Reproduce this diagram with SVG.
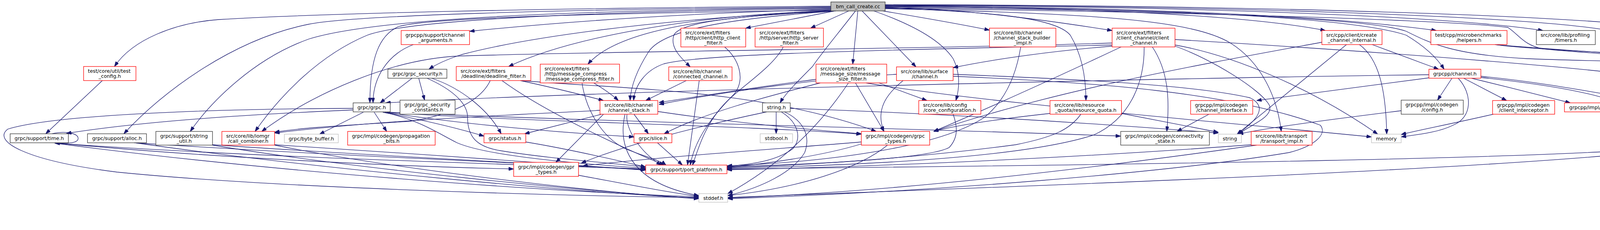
<svg xmlns="http://www.w3.org/2000/svg" width="4693" height="588" viewBox="0 0 4693 588">
<style>
rect{fill:#fff;stroke-width:1.3}
.k rect{stroke:#333}
.r rect{stroke:#f00}
.g rect{stroke:#bfbfbf}
.t rect{fill:#bfbfbf;stroke:#333}
text{font-family:"DejaVu Sans",sans-serif;font-size:12.7px;fill:#000}
.c{text-anchor:middle}
#edges path{fill:none;stroke:#191970;stroke-width:1.3;marker-end:url(#ah)}
</style>
<defs>
<marker id="ah" markerUnits="userSpaceOnUse" viewBox="0 0 12.7 8.9" refX="12.7" refY="4.45" markerWidth="12.7" markerHeight="8.9" orient="auto">
<path d="M0,0 L12.7,4.45 L0,8.9 z" fill="#191970" stroke="#191970"/>
</marker>
</defs>
<rect x="0" y="0" width="4693" height="588" style="fill:#fff;stroke:none"/>
<g id="edges">
<path d="M2127,16 C1400,20 800,35 560,50 C450,58 340,100 293,170"/>
<path d="M2127,18 C1400,24 900,40 790,62 C600,100 420,230 317,342"/>
<path d="M2127,20 C1400,27 950,50 790,100 C650,150 540,260 487,336"/>
<path d="M2127,22 C1500,30 1050,50 940,90 C820,140 720,240 653,336"/>
<path d="M2847,110 C2400,125 1600,130 1180,143 C1000,150 800,240 670,336"/>
<path d="M2127,24 C1700,35 1400,60 1202,80"/>
<path d="M2127,26 C1500,35 1100,45 1020,68 C970,90 947,150 947,263"/>
<path d="M1058,114 C990,140 955,200 955,263"/>
<path d="M2130,28 C1650,50 1330,100 1180,140 C1150,150 1120,162 1098,177"/>
<path d="M2130,27 C1750,40 1450,100 1302,170"/>
<path d="M2135,28 C1750,45 1570,90 1505,164"/>
<path d="M2137,28 C1900,40 1740,55 1725,90 C1715,120 1740,145 1767,171"/>
<path d="M2140,28 C1900,45 1700,70 1660,133 C1630,180 1615,220 1613,257"/>
<path d="M2137,28 C2050,45 1980,58 1909,72"/>
<path d="M2173,28 L2075,72"/>
<path d="M2190,28 C2150,80 2100,140 2080,170 C2040,210 2010,240 1997,263"/>
<path d="M2196,28 L2183,164"/>
<path d="M2207,28 L2345,171"/>
<path d="M2237,28 C2300,50 2400,90 2440,150 C2460,190 2455,230 2447,257"/>
<path d="M2260,28 C2350,43 2450,60 2533,77"/>
<path d="M2266,18 C2500,25 2700,55 2847,78"/>
<path d="M2266,20 C2500,30 2700,40 2740,90 C2770,140 2780,200 2780,257"/>
<path d="M2266,22 C2800,35 3050,50 3150,110 C3230,160 3270,250 3280,336"/>
<path d="M2266,16 C2800,20 3200,40 3393,78"/>
<path d="M2266,15 C2900,18 3400,40 3677,78"/>
<path d="M2266,17 C2900,20 3450,40 3600,90 C3650,120 3680,150 3697,177"/>
<path d="M2266,14 C3000,15 3700,40 3950,78"/>
<path d="M2266,13 C3100,14 3900,40 4120,78"/>
<path d="M2266,12 C3200,13 4100,40 4310,78"/>
<path d="M2266,19 C3000,25 3500,45 3600,80 C3660,110 3720,140 3910,150 C4100,158 4300,155 4365,177"/>
<path d="M2266,21 C3000,30 3700,50 3860,70 C3890,90 3900,115 3950,125 C4150,145 4400,150 4548,177"/>
<path d="M262,206 L117,342"/>
<path d="M904,281 C700,290 400,305 170,341"/>
<path d="M133,342 C165,334 200,340 200,354 C200,366 175,367 140,366"/>
<path d="M904,277 C600,278 150,290 20,330 C-20,360 60,410 300,440 C700,480 1400,500 1789,505"/>
<path d="M930,287 L818,343"/>
<path d="M958,287 L990,336"/>
<path d="M980,287 C1100,310 1180,330 1239,348"/>
<path d="M985,287 C1200,320 1450,340 1623,350"/>
<path d="M990,287 C1300,310 1900,320 2205,343"/>
<path d="M995,287 C1500,310 2400,330 2869,348"/>
<path d="M985,287 C1080,310 1120,340 1170,365 C1250,400 1500,420 1653,430"/>
<path d="M1055,200 L973,263"/>
<path d="M1072,200 L1087,256"/>
<path d="M1105,200 C1180,225 1250,280 1283,342"/>
<path d="M1093,200 C1150,225 1197,260 1197,300 C1197,350 1220,375 1280,385 C1400,405 1550,415 1653,427"/>
<path d="M1255,206 C1230,260 1150,295 1050,310 C900,320 780,325 703,338"/>
<path d="M1536,282 C1300,295 1000,305 703,340"/>
<path d="M1332,206 C1420,225 1500,245 1545,257"/>
<path d="M1285,206 C1400,290 1600,380 1700,422"/>
<path d="M1332,206 C1600,228 1950,228 2243,336"/>
<path d="M1520,212 C1550,230 1570,245 1583,257"/>
<path d="M1490,212 C1500,280 1540,350 1600,380 C1650,400 1690,410 1705,422"/>
<path d="M1757,206 L1653,257"/>
<path d="M1790,206 L1760,422"/>
<path d="M1855,120 C1890,150 1910,200 1880,240 C1830,290 1780,350 1767,422"/>
<path d="M2005,120 C1980,170 1900,220 1860,260 C1810,310 1790,370 1773,422"/>
<path d="M2847,115 C2400,125 1800,135 1700,163 C1650,180 1625,220 1622,257"/>
<path d="M2847,118 C2700,130 2550,150 2440,173"/>
<path d="M2870,120 C2700,200 2500,290 2390,336"/>
<path d="M2929,120 C2930,200 2900,300 2800,345 C2600,410 2100,425 1861,430"/>
<path d="M2950,120 C2990,180 2995,250 2987,336"/>
<path d="M3008,115 C3150,140 3350,220 3527,343"/>
<path d="M3008,118 C3100,150 3230,230 3250,270 C3260,300 3200,320 3170,343"/>
<path d="M3008,101 C3500,130 4200,180 4330,215 C4420,250 4400,340 4290,375 C4000,405 3000,420 1861,432"/>
<path d="M3827,114 C3950,130 4200,135 4430,157 C4480,200 4480,280 4400,310 C4330,350 4300,375 4200,390 C3700,440 2500,480 1863,505"/>
<path d="M3827,114 C4000,130 4400,150 4548,177"/>
<path d="M3510,113 L3683,177"/>
<path d="M3447,114 L3167,343"/>
<path d="M3480,114 C3530,150 3548,230 3550,343"/>
<path d="M3384,108 C3100,160 2700,230 2390,336"/>
<path d="M3658,191 C3000,200 1600,230 987,263"/>
<path d="M3658,199 C3500,220 3300,245 3217,257"/>
<path d="M3717,200 L3680,256"/>
<path d="M3733,200 C3770,240 3770,300 3720,320 C3680,340 3620,345 3587,350"/>
<path d="M3747,200 L3857,257"/>
<path d="M3767,200 C3850,220 3950,245 4020,263"/>
<path d="M3791,195 C3950,210 4100,240 4207,257"/>
<path d="M3791,198 C4000,220 4150,250 4190,290 C4200,310 4205,325 4207,336"/>
<path d="M3823,292 C3700,320 3620,335 3587,344"/>
<path d="M3587,283 C3450,300 3250,325 3170,343"/>
<path d="M3095,292 L3013,336"/>
<path d="M4280,292 L4233,336"/>
<path d="M2871,290 C2950,305 3050,325 3119,338"/>
<path d="M2767,292 C2740,330 2700,350 2600,370 C2300,410 2000,425 1861,428"/>
<path d="M2688,290 C2550,305 2450,320 2390,336"/>
<path d="M2440,292 C2450,320 2455,350 2430,377 C2380,405 2100,420 1861,426"/>
<path d="M2613,120 C2600,200 2570,260 2520,300 C2400,380 2100,415 1861,424"/>
<path d="M2312,206 C2270,240 2240,280 2263,336"/>
<path d="M2440,190 C2700,200 3050,215 3200,250 C3240,270 3230,300 3167,343"/>
<path d="M2440,195 C2800,210 3150,235 3380,320 C3400,345 3360,375 3300,390 C3000,440 2400,490 1863,508"/>
<path d="M2295,190 C2100,200 1850,235 1687,267"/>
<path d="M2089,203 C1950,220 1800,245 1687,262"/>
<path d="M2190,212 L2263,336"/>
<path d="M2172,212 C2100,320 2000,420 1863,495"/>
<path d="M2250,212 C2300,230 2340,245 2373,257"/>
<path d="M2100,212 C1950,250 1800,290 1700,342"/>
<path d="M2217,212 C2500,260 3000,300 3511,350"/>
<path d="M1987,286 L1987,342"/>
<path d="M2000,286 C2040,310 2055,350 2030,380 C1990,410 1930,420 1861,425"/>
<path d="M2008,286 C2060,310 2075,350 2060,390 C2030,440 1950,480 1863,500"/>
<path d="M1963,286 C1800,320 1600,370 1488,417"/>
<path d="M2023,277 C2400,290 2800,315 3119,340"/>
<path d="M1623,292 L1660,342"/>
<path d="M1540,292 L1343,342"/>
<path d="M1545,292 L1423,415"/>
<path d="M1605,292 C1600,330 1640,390 1693,422"/>
<path d="M1600,292 C1580,380 1620,470 1789,500"/>
<path d="M1684,285 C1850,310 2050,330 2205,342"/>
<path d="M1683,365 L1747,422"/>
<path d="M1346,363 C1450,380 1560,405 1653,427"/>
<path d="M2205,363 C2000,380 1700,400 1492,424"/>
<path d="M2272,371 C2200,430 2050,480 1863,500"/>
<path d="M2205,368 C2100,400 1950,420 1861,428"/>
<path d="M1481,448 C1600,470 1700,490 1789,502"/>
<path d="M143,366 C600,400 1300,420 1653,432"/>
<path d="M150,366 C500,400 1000,425 1315,432"/>
<path d="M140,366 C700,440 1400,490 1789,503"/>
<path d="M343,365 C800,395 1300,415 1653,433"/>
<path d="M345,365 C800,430 1500,495 1789,506"/>
<path d="M544,370 C900,395 1400,420 1653,434"/>
<path d="M544,371 C900,430 1500,490 1789,507"/>
<path d="M703,370 C1000,390 1400,415 1653,435"/>
<path d="M703,371 C1000,430 1500,490 1789,508"/>
<path d="M3203,370 C2800,400 2300,425 1861,434"/>
<path d="M3217,371 C2800,430 2300,490 1863,506"/>
</g>
<g id="bm" class="t"><rect x="2127" y="5" width="139" height="23"/><text class="c" x="2196.5" y="21">bm_call_create.cc</text></g>
<g id="tcfg" class="r"><rect x="214" y="170" width="134" height="36"/><text x="225" y="186">test/core/util/test</text><text class="c" x="281" y="199">_config.h</text></g>
<g id="chargs" class="r"><rect x="1027" y="78" width="175" height="36"/><text x="1038" y="94">grpcpp/support/channel</text><text class="c" x="1114.5" y="107">_arguments.h</text></g>
<g id="httpc" class="r"><rect x="1743" y="72" width="166" height="48"/><text x="1754" y="87.5">src/core/ext/filters</text><text x="1754" y="100.5">/http/client/http_client</text><text class="c" x="1826" y="113.5">_filter.h</text></g>
<g id="https" class="r"><rect x="1933" y="72" width="175" height="48"/><text x="1944" y="87.5">src/core/ext/filters</text><text x="1944" y="100.5">/http/server/http_server</text><text class="c" x="2020.5" y="113.5">_filter.h</text></g>
<g id="csbi" class="r"><rect x="2533" y="72" width="170" height="48"/><text x="2544" y="87.5">src/core/lib/channel</text><text x="2544" y="100.5">/channel_stack_builder</text><text class="c" x="2618" y="113.5">_impl.h</text></g>
<g id="cc" class="r"><rect x="2847" y="72" width="161" height="48"/><text x="2858" y="87.5">src/core/ext/filters</text><text x="2858" y="100.5">/client_channel/client</text><text class="c" x="2927.5" y="113.5">_channel.h</text></g>
<g id="cci" class="r"><rect x="3384" y="78" width="154" height="36"/><text x="3395" y="94">src/cpp/client/create</text><text class="c" x="3461" y="107">_channel_internal.h</text></g>
<g id="helpers" class="r"><rect x="3663" y="78" width="195" height="36"/><text x="3674" y="94">test/cpp/microbenchmarks</text><text class="c" x="3760.5" y="107">/helpers.h</text></g>
<g id="timers" class="k"><rect x="3933" y="78" width="151" height="36"/><text x="3944" y="94">src/core/lib/profiling</text><text class="c" x="4008.5" y="107">/timers.h</text></g>
<g id="echo" class="g"><rect x="4109" y="78" width="160" height="36"/><text x="4120" y="94">src/proto/grpc/testing</text><text class="c" x="4189" y="107">/echo.grpc.pb.h</text></g>
<g id="tcpp" class="k"><rect x="4293" y="78" width="128" height="36"/><text x="4304" y="94">test/cpp/util/test</text><text class="c" x="4357" y="107">_config.h</text></g>
<g id="sec" class="k"><rect x="993" y="177" width="151" height="23"/><text class="c" x="1068.5" y="193">grpc/grpc_security.h</text></g>
<g id="deadline" class="r"><rect x="1168" y="170" width="191" height="36"/><text x="1179" y="186">src/core/ext/filters</text><text class="c" x="1263.5" y="199">/deadline/deadline_filter.h</text></g>
<g id="mcomp" class="r"><rect x="1383" y="164" width="203" height="48"/><text x="1394" y="179.5">src/core/ext/filters</text><text x="1394" y="192.5">/http/message_compress</text><text class="c" x="1484.5" y="205.5">/message_compress_filter.h</text></g>
<g id="conn" class="r"><rect x="1712" y="171" width="162" height="35"/><text x="1723" y="186.5">src/core/lib/channel</text><text class="c" x="1793" y="199.5">/connected_channel.h</text></g>
<g id="msize" class="r"><rect x="2089" y="164" width="181" height="48"/><text x="2100" y="179.5">src/core/ext/filters</text><text x="2100" y="192.5">/message_size/message</text><text class="c" x="2179.5" y="205.5">_size_filter.h</text></g>
<g id="surf" class="r"><rect x="2295" y="171" width="145" height="35"/><text x="2306" y="186.5">src/core/lib/surface</text><text class="c" x="2367.5" y="199.5">/channel.h</text></g>
<g id="gchan" class="r"><rect x="3658" y="177" width="133" height="23"/><text class="c" x="3724.5" y="193">grpcpp/channel.h</text></g>
<g id="sstream" class="g"><rect x="4354" y="177" width="75" height="23"/><text class="c" x="4391.5" y="193">sstream</text></g>
<g id="bench" class="g"><rect x="4503" y="177" width="185" height="23"/><text class="c" x="4595.5" y="193">benchmark/benchmark.h</text></g>
<g id="grpc" class="k"><rect x="904" y="263" width="95" height="23"/><text class="c" x="951.5" y="279">grpc/grpc.h</text></g>
<g id="secc" class="k"><rect x="1024" y="256" width="141" height="36"/><text x="1035" y="272">grpc/grpc_security</text><text class="c" x="1094.5" y="285">_constants.h</text></g>
<g id="cstack" class="r"><rect x="1536" y="257" width="148" height="35"/><text x="1547" y="272.5">src/core/lib/channel</text><text class="c" x="1610" y="285.5">/channel_stack.h</text></g>
<g id="stringh" class="k"><rect x="1952" y="263" width="71" height="23"/><text class="c" x="1987.5" y="279">string.h</text></g>
<g id="ccfg" class="r"><rect x="2352" y="257" width="159" height="35"/><text x="2363" y="272.5">src/core/lib/config</text><text class="c" x="2431.5" y="285.5">/core_configuration.h</text></g>
<g id="rq" class="r"><rect x="2688" y="257" width="183" height="35"/><text x="2699" y="272.5">src/core/lib/resource</text><text class="c" x="2779.5" y="285.5">_quota/resource_quota.h</text></g>
<g id="chif" class="r"><rect x="3048" y="257" width="159" height="35"/><text x="3059" y="272.5">grpcpp/impl/codegen</text><text class="c" x="3127.5" y="285.5">/channel_interface.h</text></g>
<g id="config" class="k"><rect x="3587" y="256" width="159" height="36"/><text x="3598" y="272">grpcpp/impl/codegen</text><text class="c" x="3666.5" y="285">/config.h</text></g>
<g id="cint" class="r"><rect x="3821" y="257" width="159" height="35"/><text x="3832" y="272.5">grpcpp/impl/codegen</text><text class="c" x="3900.5" y="285.5">/client_interceptor.h</text></g>
<g id="call" class="r"><rect x="4005" y="263" width="139" height="23"/><text class="c" x="4074.5" y="279">grpcpp/impl/call.h</text></g>
<g id="cq" class="r"><rect x="4219" y="257" width="159" height="35"/><text x="4230" y="272.5">grpcpp/impl/codegen</text><text class="c" x="4298.5" y="285.5">/completion_queue.h</text></g>
<g id="time" class="k"><rect x="26" y="342" width="149" height="23"/><text class="c" x="100.5" y="358">grpc/support/time.h</text></g>
<g id="alloc" class="k"><rect x="224" y="342" width="151" height="23"/><text class="c" x="299.5" y="358">grpc/support/alloc.h</text></g>
<g id="sutil" class="k"><rect x="399" y="336" width="145" height="35"/><text x="410" y="351.5">grpc/support/string</text><text class="c" x="471.5" y="364.5">_util.h</text></g>
<g id="ccomb" class="r"><rect x="568" y="336" width="135" height="35"/><text x="579" y="351.5">src/core/lib/iomgr</text><text class="c" x="635.5" y="364.5">/call_combiner.h</text></g>
<g id="bbuf" class="g"><rect x="728" y="343" width="138" height="22"/><text class="c" x="797" y="358.5">grpc/byte_buffer.h</text></g>
<g id="prop" class="r"><rect x="890" y="336" width="224" height="35"/><text x="901" y="351.5">grpc/impl/codegen/propagation</text><text class="c" x="1002" y="364.5">_bits.h</text></g>
<g id="status" class="r"><rect x="1239" y="342" width="107" height="23"/><text class="c" x="1292.5" y="358">grpc/status.h</text></g>
<g id="slice" class="r"><rect x="1623" y="342" width="97" height="23"/><text class="c" x="1671.5" y="358">grpc/slice.h</text></g>
<g id="stdbool" class="g"><rect x="1946" y="342" width="83" height="23"/><text class="c" x="1987.5" y="358">stdbool.h</text></g>
<g id="gtypes" class="r"><rect x="2205" y="336" width="175" height="35"/><text x="2216" y="351.5">grpc/impl/codegen/grpc</text><text class="c" x="2292.5" y="364.5">_types.h</text></g>
<g id="conns" class="k"><rect x="2869" y="336" width="227" height="35"/><text x="2880" y="351.5">grpc/impl/codegen/connectivity</text><text class="c" x="2982.5" y="364.5">_state.h</text></g>
<g id="string" class="g"><rect x="3119" y="343" width="59" height="22"/><text class="c" x="3148.5" y="358.5">string</text></g>
<g id="timpl" class="r"><rect x="3203" y="336" width="156" height="35"/><text x="3214" y="351.5">src/core/lib/transport</text><text class="c" x="3281" y="364.5">/transport_impl.h</text></g>
<g id="memory" class="g"><rect x="3511" y="343" width="76" height="22"/><text class="c" x="3549" y="358.5">memory</text></g>
<g id="glib" class="r"><rect x="4135" y="336" width="159" height="35"/><text x="4146" y="351.5">grpcpp/impl/codegen</text><text class="c" x="4214.5" y="364.5">/grpc_library.h</text></g>
<g id="gpr" class="r"><rect x="1315" y="415" width="166" height="36"/><text x="1326" y="431">grpc/impl/codegen/gpr</text><text class="c" x="1398" y="444">_types.h</text></g>
<g id="port" class="r"><rect x="1653" y="422" width="208" height="22"/><text class="c" x="1757" y="437.5">grpc/support/port_platform.h</text></g>
<g id="stddef" class="g"><rect x="1789" y="495" width="74" height="22"/><text class="c" x="1826" y="510.5">stddef.h</text></g>
</svg>
